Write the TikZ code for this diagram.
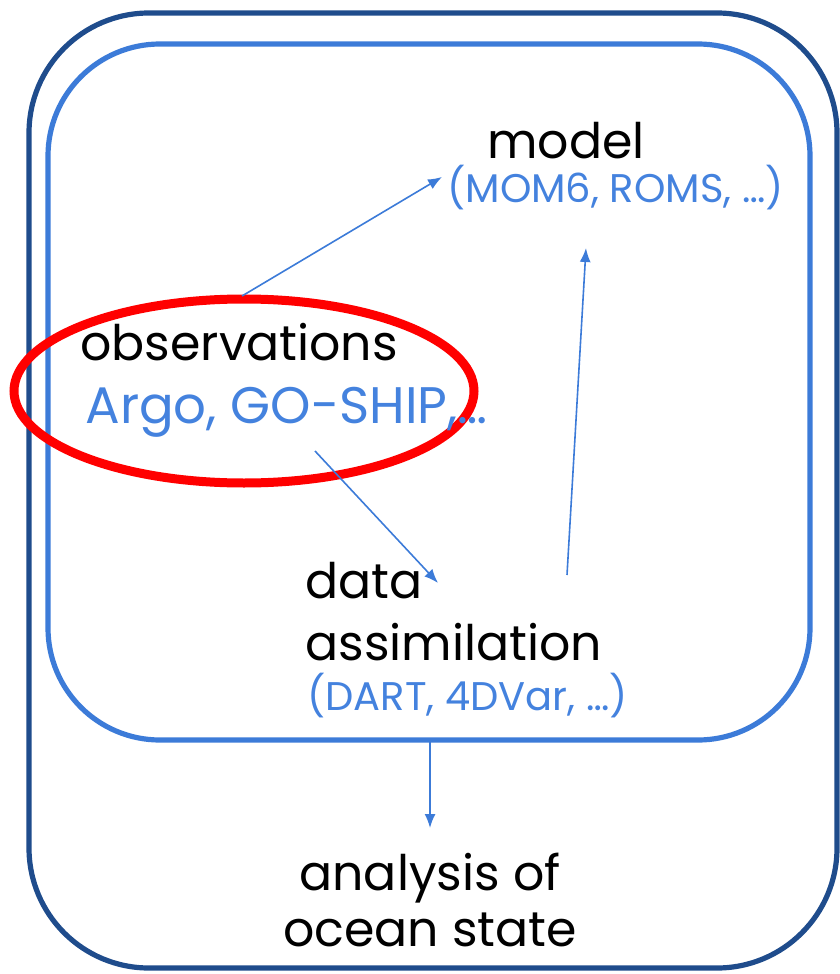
\documentclass[tikz,border=0pt]{standalone}
\usepackage{fontspec}
\setmainfont{Poppins}
\usetikzlibrary{arrows.meta}
\definecolor{outerblue}{RGB}{31,76,140}
\definecolor{innerblue}{RGB}{60,123,216}
\definecolor{txtblue}{RGB}{68,130,222}
\begin{document}
\begin{tikzpicture}[x=0.5pt,y=-0.5pt,
  bigtxt/.style={inner sep=0pt,font=\fontsize{24.5}{28}\selectfont,text=black},
  subtxt/.style={inner sep=0pt,font=\fontsize{20}{24}\selectfont,text=txtblue},
  flow/.style={draw=innerblue,line width=0.8pt,-{Latex[length=7pt,width=5.5pt]}}]
\useasboundingbox (0,0) rectangle (840,974);
% boxes
\draw[outerblue,line width=2.6pt,rounded corners=60pt] (29,13) rectangle (837,968);
\draw[innerblue,line width=2.6pt,rounded corners=56pt] (48,44) rectangle (810,740);
% red ellipse
\draw[red,line width=4.5pt] (244,391) ellipse [x radius=115pt,y radius=46pt];
% texts
\node[bigtxt,anchor=base west] (model) at (487,158) {model};
\node[subtxt,anchor=base west] (modelsub) at (447,202) {(MOM6, ROMS, …)};
\node[bigtxt,anchor=base west] (obs) at (80,360) {observations};
\node[bigtxt,font=\fontsize{25.7}{30}\selectfont,text=txtblue,anchor=base west] (obssub) at (85,423) {Argo, GO-SHIP,…};
\node[bigtxt,anchor=base west] (data) at (305,598) {data};
\node[bigtxt,anchor=base west] (assim) at (305,660) {assimilation};
\node[subtxt,anchor=base west] (assimsub) at (307,710) {(DART, 4DVar, …)};
\node[bigtxt,anchor=base] (anal1) at (430,890) {analysis of};
\node[bigtxt,anchor=base] (anal2) at (430,946) {ocean state};
% connector endpoints
\coordinate (a1s) at (242,296);
\coordinate (a1e) at (442,177);
\coordinate (a2s) at (315,451);
\coordinate (a2e) at (438,583);
\coordinate (a3s) at (567,575);
\coordinate (a3e) at (586,248);
\coordinate (a4s) at (430,741);
\coordinate (a4e) at (430,828);
\draw[flow] (a1s) -- (a1e);
\draw[flow] (a2s) -- (a2e);
\draw[flow] (a3s) -- (a3e);
\draw[flow] (a4s) -- (a4e);
\end{tikzpicture}
\end{document}
